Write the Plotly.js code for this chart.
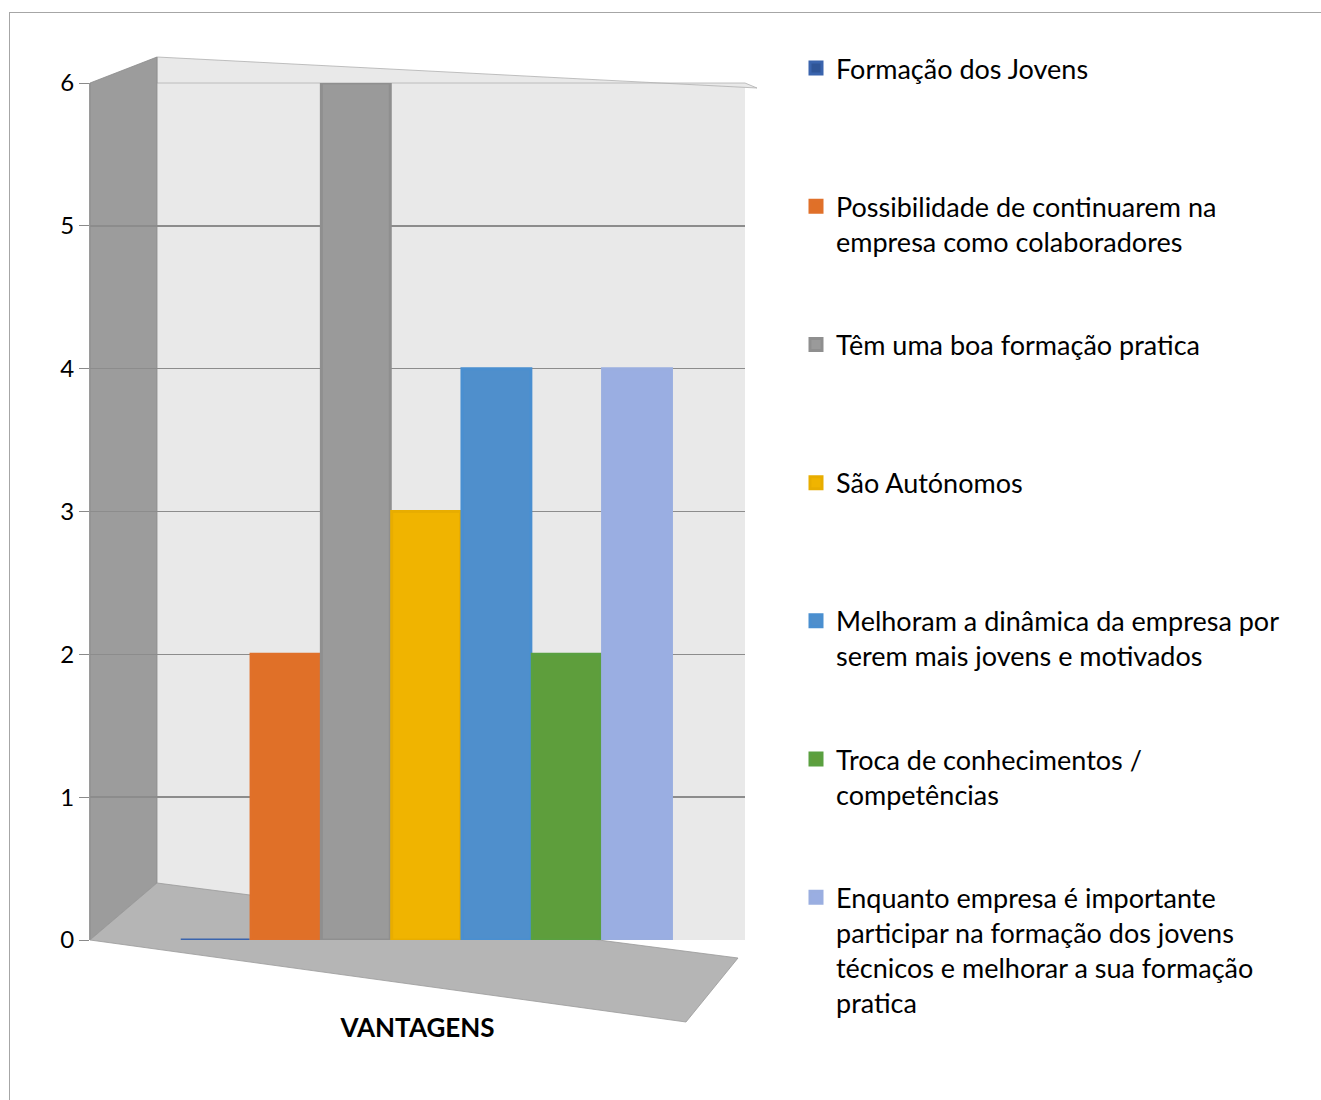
<!DOCTYPE html>
<html>
<head>
<meta charset="utf-8">
<script src="https://cdn.plot.ly/plotly-3.0.1.min.js"></script>
<style>
  html, body { margin: 0; padding: 0; background: #ffffff; }
  #chart { width: 1321px; height: 1100px; }
  #frame { position: absolute; left: 9px; top: 12px; width: 1330px; height: 1100px;
           border-left: 1.5px solid #a6a6a6; border-top: 1.5px solid #a6a6a6; pointer-events: none; }
</style>
</head>
<body>
<div id="chart"></div>
<div id="frame"></div>
<script>
// ---- data ----
const categories = ["VANTAGENS"];
const seriesNames = [
  "Formação dos Jovens",
  "Possibilidade de continuarem na<br>empresa como colaboradores",
  "Têm uma boa formação pratica",
  "São Autónomos",
  "Melhoram a dinâmica da empresa por<br>serem mais jovens e motivados",
  "Troca de conhecimentos /<br>competências",
  "Enquanto empresa é importante<br>participar na formação dos jovens<br>técnicos e melhorar a sua formação<br>pratica"
];
const seriesValues = [0, 2, 6, 3, 4, 2, 4];
const seriesColors = ["#2f5597", "#e07028", "#9a9a9a", "#f0b400", "#4f8fcc", "#5e9e3c", "#9aaee2"];
const legendColors = ["#3a64ad", "#e0702a", "#8f8f8f", "#e8ad00", "#4a8fd0", "#5aa040", "#9aaee0"];
const yTickVals = [0, 1, 2, 3, 4, 5, 6];

// pad legend labels so each of the first items takes two lines (equal spacing)
function padLabel(name, idx) {
  if (idx === seriesNames.length - 1) return name;
  const lines = name.split("<br>").length;
  return lines < 2 ? name + "<br>\u00a0" : name;
}

const traces = seriesNames.map((name, i) => ({
  type: "bar",
  name: padLabel(name, i),
  x: categories,
  y: [seriesValues[i]],
  legendgroup: "g" + i,
  marker: { color: seriesColors[i], line: { color: legendColors[i], width: 3 } },
  hoverinfo: "name+y"
}));

// plot area in pixels: x 90..745, y 83..940
const L = 90, R = 1321 - 745, T = 83, B = 1100 - 940;
const W = 655, H = 857;
const px = v => (v - L) / W;
const py = v => (940 - v) / H;

const sideWall = `M ${px(90)} ${py(83)} L ${px(157)} ${py(57)} L ${px(157)} ${py(883)} L ${px(90)} ${py(940)} Z`;
const floor = `M ${px(90)} ${py(940)} L ${px(157)} ${py(883)} L ${px(738)} ${py(958)} L ${px(686)} ${py(1022)} Z`;
const backTop = `M ${px(157)} ${py(57)} L ${px(757)} ${py(88)} L ${px(745)} ${py(83)} L ${px(157)} ${py(83)} Z`;

const layout = {
  width: 1321, height: 1100,
  margin: { l: L, r: R, t: T, b: B, pad: 0 },
  paper_bgcolor: "#ffffff",
  plot_bgcolor: "#e9e9e9",
  font: { family: "Lato, 'Open Sans', sans-serif", size: 24, color: "#000000" },
  barmode: "group",
  bargap: 0,
  bargroupgap: 0.02,
  showlegend: true,
  legend: {
    x: px(796), xanchor: "left",
    y: py(44), yanchor: "top",
    font: { family: "Lato, 'Open Sans', sans-serif", size: 27, color: "#000000" },
    tracegroupgap: 65,
    itemwidth: 30,
    maxheight: 1100,
    bgcolor: "rgba(0,0,0,0)",
    valign: "top"
  },
  xaxis: {
    type: "category",
    range: [-0.683, 0.648],
    showticklabels: false,
    showgrid: false,
    zeroline: false,
    showline: false,
    ticks: "",
    title: { text: "<b>VANTAGENS</b>", font: { size: 26, family: "Lato, 'Open Sans', sans-serif" }, standoff: 78 }
  },
  yaxis: {
    range: [0, 6],
    tickvals: yTickVals,
    ticktext: yTickVals.map(String),
    ticks: "outside",
    ticklen: 10,
    tickcolor: "#8a8a8a",
    tickfont: { size: 24 },
    showgrid: true,
    gridcolor: "#8c8c8c",
    gridwidth: 1.5,
    zeroline: false,
    showline: true,
    linecolor: "#9a9a9a",
    linewidth: 1
  },
  shapes: [
    { type: "path", xref: "paper", yref: "paper", path: backTop, fillcolor: "#e9e9e9", line: { width: 0.8, color: "#b0b0b0" }, layer: "below" },
    { type: "path", xref: "paper", yref: "paper", path: sideWall, fillcolor: "#9c9c9c", line: { width: 0.8, color: "#8a8a8a" }, layer: "below" },
    { type: "path", xref: "paper", yref: "paper", path: floor, fillcolor: "#b5b5b5", line: { width: 0.8, color: "#999999" }, layer: "below" }
  ],
  hovermode: "closest"
};

Plotly.newPlot("chart", traces, layout, { displayModeBar: false, staticPlot: true });
</script>
</body>
</html>
